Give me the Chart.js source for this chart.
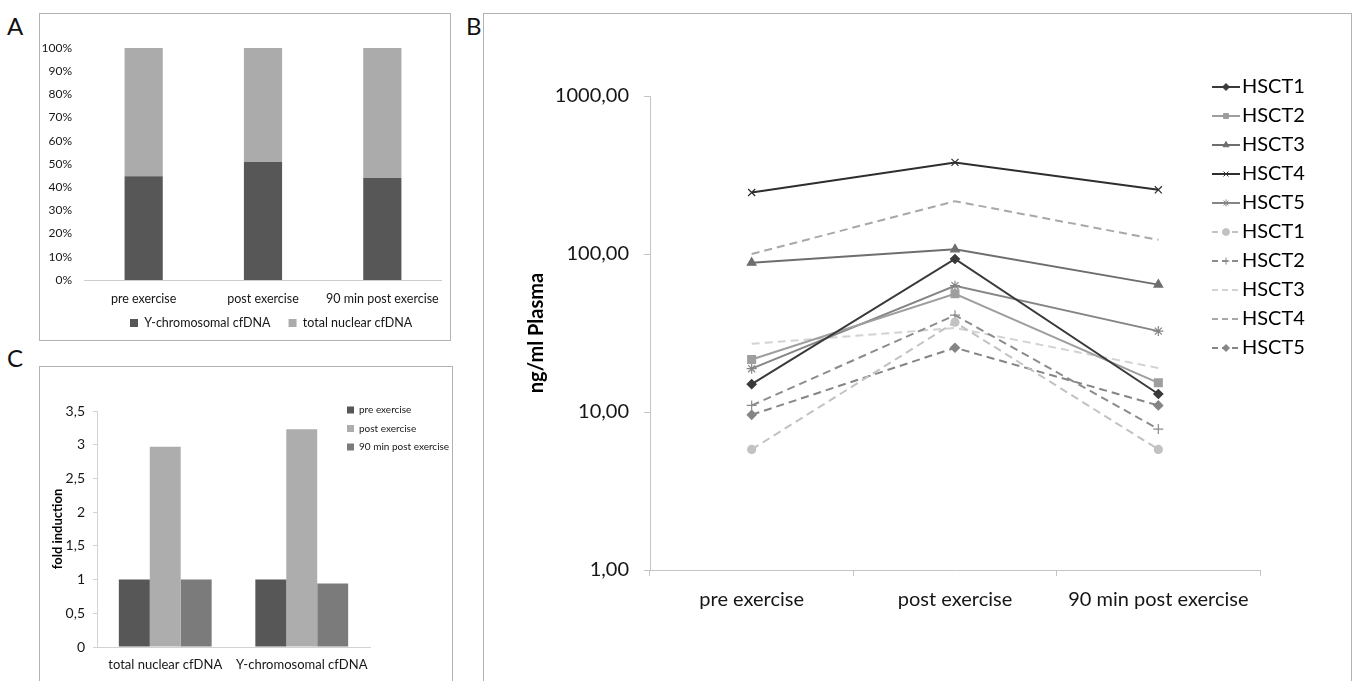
<!DOCTYPE html>
<html>
<head>
<meta charset="utf-8">
<title>Cell-free DNA after exercise</title>
<script src="https://cdn.jsdelivr.net/npm/chart.js@4.4.1/dist/chart.umd.min.js"></script>
<style>
  html, body { margin: 0; padding: 0; background: #fff; }
  body { position: relative; width: 1353px; height: 681px; overflow: hidden; font-family: Lato, "Open Sans", sans-serif; }
  .panel { position: absolute; box-sizing: border-box; border: 1px solid #b2b2b2; background: #fff; }
  .panel canvas { position: absolute; left: 0; top: 0; }
  .letter { position: absolute; font: 24px Lato, "Open Sans", sans-serif; line-height: 24px; color: #111; }
</style>
</head>
<body>
<div class="letter" style="left:7px; top:14px;">A</div>
<div class="letter" style="left:466px; top:14px;">B</div>
<div class="letter" style="left:7px; top:346px;">C</div>

<div class="panel" style="left:39px; top:13px; width:412px; height:328px;"><canvas id="chartA" width="410" height="326"></canvas></div>
<div class="panel" style="left:483px; top:13px; width:869px; height:690px;"><canvas id="chartB" width="867" height="688"></canvas></div>
<div class="panel" style="left:39px; top:366px; width:414px; height:330px;"><canvas id="chartC" width="412" height="328"></canvas></div>

<script>
// ---- Panel A: share of Y-chromosomal vs. total nuclear cfDNA (100 % stacked) ----
const timepoints = ['pre exercise', 'post exercise', '90 min post exercise'];
const yChromosomalShare = [44.7, 50.9, 44.0];
const totalNuclearShare = [55.3, 49.1, 56.0];

// ---- Panel B: cfDNA concentration per patient (ng/ml plasma, log scale) ----
const hsct1Solid  = [15, 93, 13];
const hsct2Solid  = [21.5, 56, 15.3];
const hsct3Solid  = [88, 107, 64];
const hsct4Solid  = [245, 380, 255];
const hsct5Solid  = [18.8, 63, 32.5];
const hsct1Dashed = [5.8, 37, 5.8];
const hsct2Dashed = [11, 41, 7.8];
const hsct3Dashed = [27, 34, 19];
const hsct4Dashed = [100, 216, 123];
const hsct5Dashed = [9.6, 25.5, 11];
const seriesNames = ['HSCT1', 'HSCT2', 'HSCT3', 'HSCT4', 'HSCT5', 'HSCT1', 'HSCT2', 'HSCT3', 'HSCT4', 'HSCT5'];
const logTickValues = [1, 10, 100, 1000];

// ---- Panel C: fold induction relative to pre exercise ----
const foldCategories = ['total nuclear cfDNA', 'Y-chromosomal cfDNA'];
const foldPre = [1.0, 1.0];
const foldPost = [2.97, 3.23];
const fold90 = [1.0, 0.94];

const FONT = 'Lato, "Open Sans", sans-serif';
const INK = '#161616';

// Places a legend at a fixed spot inside the canvas without taking room from the plot.
const legendSpot = {
  id: 'legendSpot',
  afterLayout(chart, args, opts) {
    const lg = chart.legend;
    if (!lg) return;
    const w = lg.width, h = lg.height;
    if (opts.left != null) { lg.left = opts.left; lg.right = opts.left + w; }
    if (opts.top != null) { lg.top = opts.top; lg.bottom = opts.top + h; }
  }
};

// Small line-plus-marker sample used as a legend glyph.
function legendGlyph(color, dash, marker, radius) {
  const c = document.createElement('canvas');
  c.width = 28; c.height = 14;
  const g = c.getContext('2d');
  g.strokeStyle = color; g.fillStyle = color;
  g.lineWidth = 2;
  g.setLineDash(dash);
  g.beginPath(); g.moveTo(0, 7); g.lineTo(28, 7); g.stroke();
  g.setLineDash([]);
  if (marker) {
    g.lineWidth = 1;
    Chart.helpers.drawPoint(g, {pointStyle: marker, radius: radius, borderWidth: 1, rotation: 0}, 14, 7);
  }
  return c;
}

function build() {
  Chart.defaults.font.family = FONT;
  Chart.defaults.color = INK;

  // Panel A
  new Chart(document.getElementById('chartA'), {
    type: 'bar',
    data: {
      labels: timepoints,
      datasets: [
        {label: 'Y-chromosomal cfDNA', data: yChromosomalShare, backgroundColor: '#575757'},
        {label: 'total nuclear cfDNA', data: totalNuclearShare, backgroundColor: '#ababab'}
      ]
    },
    plugins: [legendSpot],
    options: {
      responsive: false, animation: false,
      layout: {padding: {left: 0, right: 2, top: 34, bottom: 1}},
      datasets: {bar: {categoryPercentage: 1, barPercentage: 0.32, borderWidth: 0}},
      plugins: {
        legendSpot: {left: 72, top: 284.75},
        legend: {position: 'bottom', align: 'start', maxHeight: 32,
                 labels: {boxWidth: 8, boxHeight: 8, padding: 18, color: INK, font: {family: FONT, size: 12.5}}},
        tooltip: {enabled: false}
      },
      scales: {
        x: {
          stacked: true,
          grid: {display: false, drawTicks: false},
          border: {display: true, color: '#cdcdcd'},
          ticks: {color: INK, font: {family: FONT, size: 12.5}, padding: 11, maxRotation: 0},
          afterFit(s) { s.height = 27; }
        },
        y: {
          stacked: true, min: 0, max: 100,
          grid: {display: false, drawTicks: false},
          border: {display: false},
          ticks: {stepSize: 10, color: INK, font: {family: FONT, size: 12}, padding: 12, callback: v => v + '%'},
          afterFit(s) { s.width = 44; }
        }
      }
    }
  });

  // Panel B
  const seriesData = [hsct1Solid, hsct2Solid, hsct3Solid, hsct4Solid, hsct5Solid,
                      hsct1Dashed, hsct2Dashed, hsct3Dashed, hsct4Dashed, hsct5Dashed];
  const seriesLook = [
    {color: '#3a3a3a', dash: [],     marker: 'rectRot',  r: 4.5},
    {color: '#9e9e9e', dash: [],     marker: 'rect',     r: 5.5},
    {color: '#6e6e6e', dash: [],     marker: 'triangle', r: 5},
    {color: '#2e2e2e', dash: [],     marker: 'crossRot', r: 5},
    {color: '#858585', dash: [],     marker: 'star',     r: 5},
    {color: '#c2c2c2', dash: [8, 5], marker: 'circle',   r: 4},
    {color: '#8c8c8c', dash: [8, 5], marker: 'cross',    r: 5},
    {color: '#d2d2d2', dash: [8, 5], marker: false,      r: 0},
    {color: '#a8a8a8', dash: [8, 5], marker: false,      r: 0},
    {color: '#858585', dash: [8, 5], marker: 'rectRot',  r: 4.5}
  ];
  const glyphs = seriesLook.map(s => legendGlyph(s.color, s.dash.length ? [6, 4] : [], s.marker, Math.min(s.r, 3.5)));

  new Chart(document.getElementById('chartB'), {
    type: 'line',
    data: {
      labels: timepoints,
      datasets: seriesData.map((d, i) => ({
        label: seriesNames[i],
        data: d,
        borderColor: seriesLook[i].color,
        backgroundColor: seriesLook[i].color,
        borderDash: seriesLook[i].dash,
        borderWidth: 2,
        tension: 0,
        fill: false,
        pointStyle: seriesLook[i].marker,
        pointRadius: seriesLook[i].r,
        pointBorderWidth: 1.2,
        pointBackgroundColor: seriesLook[i].color,
        pointBorderColor: seriesLook[i].color
      }))
    },
    plugins: [legendSpot],
    options: {
      responsive: false, animation: false,
      layout: {padding: {left: 0, right: 91, top: 82, bottom: 88}},
      plugins: {
        tooltip: {enabled: false},
        legendSpot: {left: 727, top: 54},
        legend: {
          position: 'chartArea',
          align: 'start',
          labels: {
            usePointStyle: true, pointStyleWidth: 12, padding: 9,
            color: '#000', font: {family: FONT, size: 20},
            generateLabels(chart) {
              const items = Chart.defaults.plugins.legend.labels.generateLabels(chart);
              items.forEach((it, i) => { it.pointStyle = glyphs[i]; });
              return items;
            }
          }
        }
      },
      scales: {
        x: {
          type: 'category', offset: true,
          grid: {display: true, offset: true, drawOnChartArea: false, drawTicks: true, tickLength: 6, color: '#c4c4c4'},
          border: {display: true, color: '#c4c4c4'},
          ticks: {color: INK, font: {family: FONT, size: 20}, padding: 12, maxRotation: 0},
          afterFit(s) { s.height = 44; }
        },
        y: {
          type: 'logarithmic', min: 1, max: 1000,
          afterBuildTicks(s) { s.ticks = logTickValues.map(v => ({value: v})); },
          grid: {display: true, drawOnChartArea: false, drawTicks: true, tickLength: 6, color: '#c4c4c4'},
          border: {display: true, color: '#c4c4c4'},
          ticks: {color: INK, font: {family: FONT, size: 20}, padding: 15,
                  callback: v => Number(v).toFixed(2).replace('.', ',')},
          title: {display: true, text: 'ng/ml Plasma', color: '#000',
                  font: {family: FONT, size: 20, weight: 'bold'}, padding: {top: 41, bottom: 0}},
          afterFit(s) { s.width = 166; }
        }
      }
    }
  });

  // Panel C
  new Chart(document.getElementById('chartC'), {
    type: 'bar',
    data: {
      labels: foldCategories,
      datasets: [
        {label: 'pre exercise', data: foldPre, backgroundColor: '#575757'},
        {label: 'post exercise', data: foldPost, backgroundColor: '#adadad'},
        {label: '90 min post exercise', data: fold90, backgroundColor: '#7b7b7b'}
      ]
    },
    plugins: [legendSpot],
    options: {
      responsive: false, animation: false,
      layout: {padding: {left: 0, right: 82, top: 44, bottom: 18}},
      datasets: {bar: {categoryPercentage: 0.68, barPercentage: 1, borderWidth: 0}},
      plugins: {
        tooltip: {enabled: false},
        legendSpot: {left: 298.5, top: 29.5},
        legend: {
          position: 'chartArea', align: 'start',
          labels: {boxWidth: 7, boxHeight: 7, padding: 8.5, color: INK, font: {family: FONT, size: 10}}
        }
      },
      scales: {
        x: {
          grid: {display: false, drawTicks: false},
          border: {display: true, color: '#d2d2d2'},
          ticks: {color: INK, font: {family: FONT, size: 13}, padding: 10, maxRotation: 0},
          afterFit(s) { s.height = 30; }
        },
        y: {
          min: 0, max: 3.5,
          grid: {display: true, drawOnChartArea: false, drawTicks: true, tickLength: 4, color: '#d2d2d2'},
          border: {display: true, color: '#d2d2d2'},
          ticks: {stepSize: 0.5, color: INK, font: {family: FONT, size: 14}, padding: 8,
                  callback: v => String(v).replace('.', ',')},
          title: {display: true, text: 'fold induction', color: '#000',
                  font: {family: FONT, size: 13, weight: 'bold'}, padding: {top: 10, bottom: 0}},
          afterFit(s) { s.width = 57; }
        }
      }
    }
  });
}

const fontsReady = document.fonts && document.fonts.load
  ? Promise.all(['12px Lato', '20px Lato', 'bold 20px Lato'].map(f => document.fonts.load(f))).catch(() => {})
  : Promise.resolve();
fontsReady.then(build, build);
</script>
</body>
</html>
